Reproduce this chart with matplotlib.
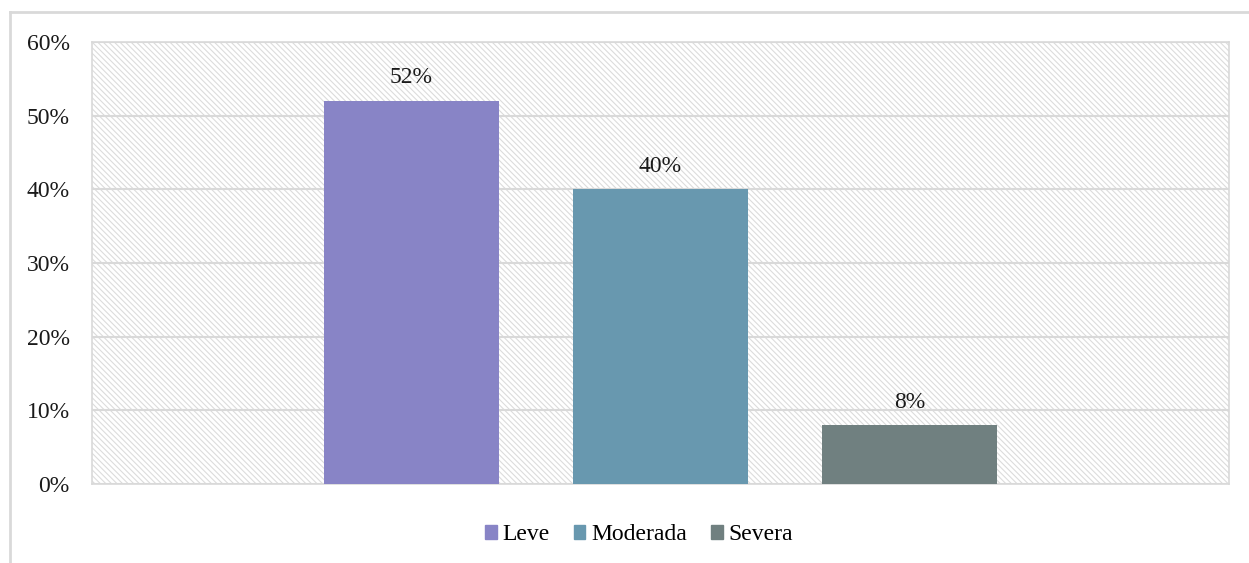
import matplotlib.pyplot as plt
from matplotlib.lines import Line2D
from matplotlib.ticker import FuncFormatter

# Severity distribution
categorias = ["Leve", "Moderada", "Severa"]
porcentajes = [52, 40, 8]
colores = ["#8884c6", "#6898af", "#708080"]
yticks = [0, 10, 20, 30, 40, 50, 60]

plt.rcParams['font.family'] = ['Liberation Serif', 'DejaVu Serif']
plt.rcParams['hatch.color'] = '#dcdcdc'
plt.rcParams['hatch.linewidth'] = 0.8

fig = plt.figure(figsize=(12.49, 5.63), dpi=100)
ax = fig.add_axes([92 / 1249, 1 - 484 / 563, 1137 / 1249, 442 / 563])

# hatched plot background
ax.patch.set_facecolor('white')
ax.patch.set_hatch('\\\\\\\\\\\\')
ax.patch.set_edgecolor('#dcdcdc')

ax.set_axisbelow(True)
ax.yaxis.grid(True, color='#d9d9d9', linewidth=1.5)

pos = [-1, 0, 1]
bars = ax.bar(pos, porcentajes, width=0.7, color=colores, label=categorias, zorder=3)

for b, v in zip(bars, porcentajes):
    ax.annotate(f"{v}%", (b.get_x() + b.get_width() / 2, v),
                xytext=(0, 9), textcoords='offset points',
                ha='center', va='bottom', fontsize=17, color='#1a1a1a')

ax.set_xlim(-2.283, 2.283)
ax.set_ylim(0, 60)
ax.set_yticks(yticks)
ax.yaxis.set_major_formatter(FuncFormatter(lambda v, p: f"{int(v)}%"))
ax.tick_params(axis='y', length=0, pad=16, labelsize=17, labelcolor='#1a1a1a')
ax.set_xticks([])
for s in ax.spines.values():
    s.set_color('#d9d9d9')
    s.set_linewidth(1.2)

handles = [plt.Rectangle((0, 0), 1, 1, color=c) for c in colores]
fig.legend(handles, categorias, loc='center', bbox_to_anchor=(639 / 1249, 1 - 535 / 563),
           ncol=3, frameon=False, fontsize=17, handlelength=0.5, handleheight=0.5,
           handletextpad=0.25, columnspacing=1.0)

# chart frame
fig.add_artist(Line2D([10 / 1249, 1], [1 - 12 / 563] * 2, color='#d9d9d9', lw=2))
fig.add_artist(Line2D([10 / 1249] * 2, [0, 1 - 12 / 563], color='#d9d9d9', lw=2))

fig.savefig("out.png", dpi=100)
